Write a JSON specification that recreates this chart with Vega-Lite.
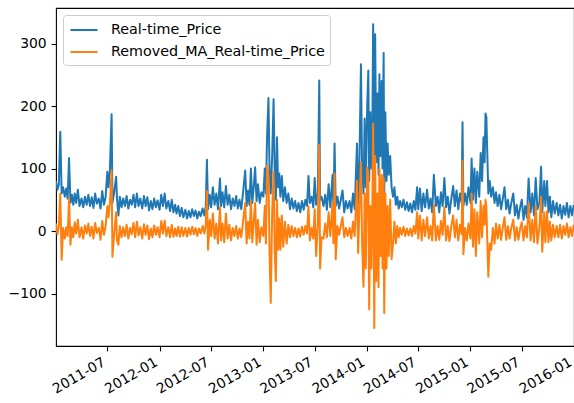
{
"$schema":"https://vega.github.io/schema/vega-lite/v6.json",
"width":518,"height":338,
"autosize":{"type":"none"},
"padding":{"left":56,"top":8,"right":0,"bottom":57},
"background":"white",
"config":{"view":{"stroke":"#000","strokeWidth":1.1},"font":"DejaVu Sans"},
"data":{"values":[
{"d":"2011-01-01","p":80,"r":12},{"d":"2011-01-06","p":66,"r":-5},{"d":"2011-01-11","p":74,"r":8},{"d":"2011-01-16","p":159,"r":60},{"d":"2011-01-21","p":60,"r":-46},{"d":"2011-01-26","p":70,"r":5},
{"d":"2011-02-01","p":55,"r":-12},{"d":"2011-02-06","p":68,"r":6},{"d":"2011-02-11","p":52,"r":-8},{"d":"2011-02-16","p":117,"r":52},{"d":"2011-02-21","p":45,"r":-22},{"d":"2011-02-26","p":58,"r":6},
{"d":"2011-03-03","p":42,"r":-10},{"d":"2011-03-08","p":60,"r":14},{"d":"2011-03-13","p":45,"r":-4},{"d":"2011-03-19","p":66,"r":18},{"d":"2011-03-25","p":40,"r":-10},
{"d":"2011-04-01","p":52,"r":6},{"d":"2011-04-07","p":38,"r":-12},{"d":"2011-04-13","p":55,"r":9},{"d":"2011-04-19","p":42,"r":-4},{"d":"2011-04-25","p":58,"r":12},
{"d":"2011-05-01","p":40,"r":-8},{"d":"2011-05-07","p":54,"r":7},{"d":"2011-05-13","p":37,"r":-12},{"d":"2011-05-19","p":60,"r":13},{"d":"2011-05-25","p":44,"r":-3},
{"d":"2011-06-01","p":52,"r":5},{"d":"2011-06-07","p":36,"r":-14},{"d":"2011-06-13","p":64,"r":16},{"d":"2011-06-19","p":42,"r":-6},{"d":"2011-06-25","p":55,"r":8},
{"d":"2011-07-01","p":95,"r":40},{"d":"2011-07-05","p":70,"r":22},{"d":"2011-07-10","p":97,"r":45},{"d":"2011-07-16","p":187,"r":97},{"d":"2011-07-19","p":45,"r":-41},{"d":"2011-07-25","p":62,"r":-5},
{"d":"2011-08-01","p":87,"r":30},{"d":"2011-08-04","p":52,"r":-15},{"d":"2011-08-09","p":25,"r":-22},{"d":"2011-08-14","p":55,"r":8},{"d":"2011-08-20","p":38,"r":-10},{"d":"2011-08-26","p":52,"r":6},
{"d":"2011-09-01","p":40,"r":-8},{"d":"2011-09-07","p":56,"r":10},{"d":"2011-09-13","p":36,"r":-12},{"d":"2011-09-19","p":50,"r":5},{"d":"2011-09-25","p":42,"r":-5},
{"d":"2011-10-01","p":58,"r":13},{"d":"2011-10-07","p":38,"r":-10},{"d":"2011-10-13","p":60,"r":15},{"d":"2011-10-19","p":40,"r":-7},{"d":"2011-10-25","p":52,"r":6},
{"d":"2011-11-01","p":36,"r":-12},{"d":"2011-11-07","p":56,"r":11},{"d":"2011-11-13","p":40,"r":-6},{"d":"2011-11-19","p":54,"r":9},{"d":"2011-11-25","p":33,"r":-13},
{"d":"2011-12-01","p":48,"r":4},{"d":"2011-12-07","p":35,"r":-10},{"d":"2011-12-13","p":52,"r":9},{"d":"2011-12-19","p":38,"r":-6},{"d":"2011-12-25","p":49,"r":6},
{"d":"2012-01-01","p":34,"r":-10},{"d":"2012-01-07","p":58,"r":16},{"d":"2012-01-13","p":40,"r":-4},{"d":"2012-01-19","p":60,"r":17},{"d":"2012-01-25","p":36,"r":-8},
{"d":"2012-02-01","p":48,"r":6},{"d":"2012-02-07","p":32,"r":-10},{"d":"2012-02-13","p":50,"r":10},{"d":"2012-02-19","p":30,"r":-9},{"d":"2012-02-25","p":42,"r":4},
{"d":"2012-03-01","p":28,"r":-8},{"d":"2012-03-07","p":40,"r":7},{"d":"2012-03-13","p":24,"r":-9},{"d":"2012-03-19","p":37,"r":6},{"d":"2012-03-25","p":22,"r":-8},
{"d":"2012-04-01","p":34,"r":5},{"d":"2012-04-07","p":20,"r":-9},{"d":"2012-04-13","p":32,"r":5},{"d":"2012-04-19","p":22,"r":-6},{"d":"2012-04-25","p":35,"r":7},
{"d":"2012-05-01","p":24,"r":-5},{"d":"2012-05-07","p":33,"r":5},{"d":"2012-05-13","p":20,"r":-8},{"d":"2012-05-19","p":31,"r":4},{"d":"2012-05-25","p":24,"r":-4},
{"d":"2012-06-01","p":36,"r":8},{"d":"2012-06-07","p":25,"r":-4},{"d":"2012-06-12","p":40,"r":10},{"d":"2012-06-16","p":114,"r":64},{"d":"2012-06-20","p":35,"r":-30},{"d":"2012-06-26","p":58,"r":18},
{"d":"2012-07-01","p":38,"r":-8},{"d":"2012-07-07","p":70,"r":28},{"d":"2012-07-13","p":42,"r":-12},{"d":"2012-07-19","p":60,"r":12},{"d":"2012-07-25","p":35,"r":-20},
{"d":"2012-08-01","p":84,"r":38},{"d":"2012-08-05","p":40,"r":-15},{"d":"2012-08-10","p":62,"r":12},{"d":"2012-08-16","p":38,"r":-18},{"d":"2012-08-22","p":72,"r":28},{"d":"2012-08-28","p":42,"r":-12},
{"d":"2012-09-03","p":58,"r":10},{"d":"2012-09-09","p":35,"r":-15},{"d":"2012-09-15","p":52,"r":5},{"d":"2012-09-21","p":40,"r":-8},{"d":"2012-09-27","p":56,"r":8},
{"d":"2012-10-03","p":36,"r":-12},{"d":"2012-10-09","p":50,"r":4},{"d":"2012-10-15","p":35,"r":-10},{"d":"2012-10-21","p":60,"r":14},{"d":"2012-10-29","p":97,"r":45},
{"d":"2012-11-03","p":40,"r":-20},{"d":"2012-11-08","p":65,"r":15},{"d":"2012-11-13","p":42,"r":-12},{"d":"2012-11-18","p":100,"r":48},{"d":"2012-11-23","p":45,"r":-18},{"d":"2012-11-28","p":70,"r":15},
{"d":"2012-12-03","p":102,"r":45},{"d":"2012-12-08","p":48,"r":-22},{"d":"2012-12-13","p":75,"r":18},{"d":"2012-12-19","p":45,"r":-18},{"d":"2012-12-25","p":62,"r":6},
{"d":"2013-01-01","p":55,"r":-8},{"d":"2013-01-06","p":100,"r":40},{"d":"2013-01-10","p":60,"r":-20},{"d":"2013-01-14","p":150,"r":105},{"d":"2013-01-19","p":213,"r":90},{"d":"2013-01-23","p":90,"r":-40},{"d":"2013-01-27","p":60,"r":-115},
{"d":"2013-02-01","p":120,"r":30},{"d":"2013-02-06","p":211,"r":95},{"d":"2013-02-10","p":95,"r":-30},{"d":"2013-02-14","p":50,"r":-80},{"d":"2013-02-18","p":150,"r":50},{"d":"2013-02-22","p":70,"r":-30},{"d":"2013-02-26","p":92,"r":20},
{"d":"2013-03-02","p":55,"r":-30},{"d":"2013-03-07","p":88,"r":25},{"d":"2013-03-12","p":48,"r":-25},{"d":"2013-03-18","p":70,"r":15},{"d":"2013-03-24","p":45,"r":-20},{"d":"2013-03-30","p":60,"r":10},
{"d":"2013-04-05","p":35,"r":-10},{"d":"2013-04-11","p":52,"r":8},{"d":"2013-04-17","p":36,"r":-8},{"d":"2013-04-23","p":48,"r":5},{"d":"2013-04-29","p":32,"r":-10},
{"d":"2013-05-05","p":45,"r":4},{"d":"2013-05-11","p":30,"r":-9},{"d":"2013-05-17","p":48,"r":7},{"d":"2013-05-23","p":34,"r":-6},{"d":"2013-05-29","p":50,"r":8},
{"d":"2013-06-04","p":40,"r":-4},{"d":"2013-06-09","p":88,"r":40},{"d":"2013-06-14","p":45,"r":-15},{"d":"2013-06-20","p":55,"r":5},{"d":"2013-06-26","p":38,"r":-12},
{"d":"2013-07-01","p":85,"r":35},{"d":"2013-07-06","p":42,"r":-40},{"d":"2013-07-12","p":60,"r":10},{"d":"2013-07-17","p":241,"r":138},{"d":"2013-07-20","p":50,"r":-60},{"d":"2013-07-25","p":55,"r":-10},
{"d":"2013-08-01","p":40,"r":-12},{"d":"2013-08-07","p":58,"r":12},{"d":"2013-08-13","p":34,"r":-10},{"d":"2013-08-19","p":75,"r":30},{"d":"2013-08-25","p":38,"r":-8},
{"d":"2013-09-02","p":90,"r":45},{"d":"2013-09-05","p":38,"r":-20},{"d":"2013-09-09","p":140,"r":92},{"d":"2013-09-13","p":40,"r":-45},{"d":"2013-09-19","p":55,"r":8},{"d":"2013-09-25","p":36,"r":-6},
{"d":"2013-10-01","p":50,"r":8},{"d":"2013-10-07","p":65,"r":22},{"d":"2013-10-13","p":30,"r":-10},{"d":"2013-10-19","p":48,"r":5},{"d":"2013-10-25","p":36,"r":-8},
{"d":"2013-11-01","p":48,"r":5},{"d":"2013-11-07","p":30,"r":-12},{"d":"2013-11-13","p":60,"r":15},{"d":"2013-11-19","p":35,"r":-8},{"d":"2013-11-27","p":140,"r":80},
{"d":"2013-12-01","p":45,"r":-35},{"d":"2013-12-05","p":90,"r":30},{"d":"2013-12-11","p":267,"r":110},{"d":"2013-12-15","p":100,"r":-20},{"d":"2013-12-20","p":60,"r":-89},{"d":"2013-12-24","p":180,"r":60},{"d":"2013-12-28","p":70,"r":-60},
{"d":"2014-01-02","p":200,"r":102},{"d":"2014-01-06","p":257,"r":90},{"d":"2014-01-09","p":80,"r":-125},{"d":"2014-01-13","p":190,"r":40},{"d":"2014-01-17","p":100,"r":-60},{"d":"2014-01-20","p":150,"r":30},{"d":"2014-01-23","p":331,"r":172},{"d":"2014-01-27","p":80,"r":-155},{"d":"2014-01-30","p":315,"r":120},
{"d":"2014-02-03","p":110,"r":-80},{"d":"2014-02-07","p":220,"r":60},{"d":"2014-02-11","p":90,"r":-90},{"d":"2014-02-14","p":251,"r":100},{"d":"2014-02-18","p":120,"r":-40},{"d":"2014-02-22","p":240,"r":90},{"d":"2014-02-25","p":100,"r":-60},
{"d":"2014-03-01","p":285,"r":85},{"d":"2014-03-03","p":60,"r":-131},{"d":"2014-03-07","p":190,"r":60},{"d":"2014-03-11","p":80,"r":-60},{"d":"2014-03-15","p":140,"r":40},{"d":"2014-03-19","p":90,"r":-40},{"d":"2014-03-24","p":120,"r":50},{"d":"2014-03-29","p":70,"r":-45},
{"d":"2014-04-03","p":55,"r":-20},{"d":"2014-04-08","p":70,"r":15},{"d":"2014-04-13","p":42,"r":-20},{"d":"2014-04-18","p":55,"r":8},{"d":"2014-04-23","p":36,"r":-10},{"d":"2014-04-28","p":48,"r":5},
{"d":"2014-05-04","p":38,"r":-6},{"d":"2014-05-10","p":50,"r":7},{"d":"2014-05-16","p":34,"r":-8},{"d":"2014-05-22","p":46,"r":4},{"d":"2014-05-28","p":32,"r":-7},
{"d":"2014-06-03","p":44,"r":4},{"d":"2014-06-09","p":30,"r":-8},{"d":"2014-06-15","p":48,"r":8},{"d":"2014-06-21","p":34,"r":-4},{"d":"2014-06-27","p":70,"r":30},
{"d":"2014-07-01","p":35,"r":-12},{"d":"2014-07-07","p":68,"r":25},{"d":"2014-07-13","p":32,"r":-15},{"d":"2014-07-19","p":60,"r":18},{"d":"2014-07-25","p":38,"r":-8},
{"d":"2014-08-01","p":66,"r":22},{"d":"2014-08-07","p":36,"r":-12},{"d":"2014-08-13","p":52,"r":8},{"d":"2014-08-19","p":30,"r":-15},{"d":"2014-08-25","p":90,"r":42},
{"d":"2014-09-01","p":40,"r":-15},{"d":"2014-09-07","p":55,"r":8},{"d":"2014-09-13","p":30,"r":-14},{"d":"2014-09-19","p":62,"r":16},{"d":"2014-09-25","p":40,"r":-6},
{"d":"2014-10-01","p":85,"r":38},{"d":"2014-10-07","p":38,"r":-15},{"d":"2014-10-13","p":55,"r":8},{"d":"2014-10-19","p":28,"r":-16},{"d":"2014-10-25","p":50,"r":6},
{"d":"2014-11-01","p":72,"r":25},{"d":"2014-11-07","p":40,"r":-10},{"d":"2014-11-13","p":65,"r":18},{"d":"2014-11-19","p":35,"r":-15},{"d":"2014-11-25","p":60,"r":10},
{"d":"2014-12-01","p":45,"r":-5},{"d":"2014-12-04","p":174,"r":113},{"d":"2014-12-07","p":40,"r":-37},{"d":"2014-12-13","p":60,"r":5},{"d":"2014-12-19","p":42,"r":-15},{"d":"2014-12-25","p":70,"r":12},
{"d":"2015-01-01","p":45,"r":-12},{"d":"2015-01-05","p":116,"r":60},{"d":"2015-01-10","p":50,"r":-25},{"d":"2015-01-15","p":100,"r":35},{"d":"2015-01-20","p":45,"r":-40},{"d":"2015-01-25","p":95,"r":30},
{"d":"2015-02-01","p":55,"r":-20},{"d":"2015-02-06","p":125,"r":48},{"d":"2015-02-11","p":80,"r":-10},{"d":"2015-02-16","p":150,"r":40},{"d":"2015-02-20","p":110,"r":10},{"d":"2015-02-23","p":188,"r":50},{"d":"2015-02-26","p":183,"r":40},
{"d":"2015-03-01","p":130,"r":-10},{"d":"2015-03-05","p":60,"r":-73},{"d":"2015-03-10","p":80,"r":-20},{"d":"2015-03-15","p":55,"r":-30},{"d":"2015-03-21","p":70,"r":5},{"d":"2015-03-27","p":45,"r":-20},
{"d":"2015-04-01","p":62,"r":12},{"d":"2015-04-07","p":40,"r":-12},{"d":"2015-04-13","p":58,"r":10},{"d":"2015-04-19","p":35,"r":-14},{"d":"2015-04-25","p":52,"r":6},
{"d":"2015-05-01","p":70,"r":22},{"d":"2015-05-07","p":35,"r":-14},{"d":"2015-05-13","p":50,"r":8},{"d":"2015-05-19","p":28,"r":-12},{"d":"2015-05-25","p":45,"r":5},
{"d":"2015-06-01","p":60,"r":18},{"d":"2015-06-07","p":25,"r":-15},{"d":"2015-06-13","p":42,"r":6},{"d":"2015-06-19","p":20,"r":-14},{"d":"2015-06-25","p":38,"r":4},
{"d":"2015-07-01","p":50,"r":14},{"d":"2015-07-07","p":18,"r":-15},{"d":"2015-07-13","p":40,"r":8},{"d":"2015-07-19","p":22,"r":-10},{"d":"2015-07-25","p":84,"r":45},
{"d":"2015-08-01","p":30,"r":-15},{"d":"2015-08-07","p":60,"r":18},{"d":"2015-08-13","p":25,"r":-18},{"d":"2015-08-19","p":85,"r":40},{"d":"2015-08-25","p":35,"r":-20},
{"d":"2015-09-01","p":45,"r":5},{"d":"2015-09-07","p":103,"r":55},{"d":"2015-09-11","p":30,"r":-33},{"d":"2015-09-18","p":80,"r":30},{"d":"2015-09-22","p":40,"r":-18},{"d":"2015-09-28","p":80,"r":32},
{"d":"2015-10-03","p":30,"r":-18},{"d":"2015-10-08","p":55,"r":15},{"d":"2015-10-13","p":22,"r":-15},{"d":"2015-10-19","p":48,"r":10},{"d":"2015-10-25","p":28,"r":-10},
{"d":"2015-11-01","p":45,"r":8},{"d":"2015-11-07","p":25,"r":-10},{"d":"2015-11-13","p":42,"r":10},{"d":"2015-11-19","p":20,"r":-12},{"d":"2015-11-25","p":40,"r":8},
{"d":"2015-12-01","p":26,"r":-6},{"d":"2015-12-07","p":45,"r":12},{"d":"2015-12-13","p":22,"r":-10},{"d":"2015-12-19","p":40,"r":6},{"d":"2015-12-25","p":25,"r":-8},{"d":"2015-12-31","p":42,"r":10}
]},
"transform":[{"fold":["p","r"],"as":["s","v"]}],
"mark":{"type":"line","strokeWidth":2,"strokeJoin":"round","clip":true},
"encoding":{
"x":{"field":"d","type":"temporal",
"scale":{"type":"utc","domain":[{"year":2011,"month":1,"date":1,"utc":true},{"year":2016,"month":1,"date":1,"utc":true}]},
"axis":{"title":null,"grid":false,"domain":false,"format":"%Y-%m","labelAngle":-30,"labelAlign":"right","labelBaseline":"top","labelFontSize":13.9,"labelFont":"DejaVu Sans","labelColor":"#000","tickColor":"#000","tickSize":4.9,"tickWidth":1.1,"labelPadding":4,"labelOffset":-7,"labelOverlap":false,"labelFlush":false,"labelBound":false,
"values":[{"year":2011,"month":7,"date":1,"utc":true},{"year":2012,"month":1,"date":1,"utc":true},{"year":2012,"month":7,"date":1,"utc":true},{"year":2013,"month":1,"date":1,"utc":true},{"year":2013,"month":7,"date":1,"utc":true},{"year":2014,"month":1,"date":1,"utc":true},{"year":2014,"month":7,"date":1,"utc":true},{"year":2015,"month":1,"date":1,"utc":true},{"year":2015,"month":7,"date":1,"utc":true},{"year":2016,"month":1,"date":1,"utc":true}]}},
"y":{"field":"v","type":"quantitative","scale":{"domain":[-184,357],"nice":false,"zero":false},
"axis":{"title":null,"grid":false,"domain":false,"values":[-100,0,100,200,300],"format":"d","labelFontSize":13.9,"labelFont":"DejaVu Sans","labelColor":"#000","tickColor":"#000","tickSize":4.9,"tickWidth":1.1,"labelPadding":4.9}},
"color":{"field":"s","type":"nominal","scale":{"domain":["p","r"],"range":["#1f77b4","#ff7f0e"]},
"legend":{"title":null,"orient":"none","legendX":7,"legendY":7,"fillColor":"rgba(255,255,255,0.8)","strokeColor":"#cccccc","cornerRadius":3,"padding":5,"symbolType":"M-1.5,0H1.5","symbolSize":324,"symbolOffset":6,"symbolStrokeWidth":2,"labelFontSize":14.3,"labelFont":"DejaVu Sans","labelColor":"#000","labelOffset":17,"rowPadding":4,"labelLimit":400,
"labelExpr":"datum.value == 'p' ? 'Real-time_Price' : 'Removed_MA_Real-time_Price'"}}
}
}
